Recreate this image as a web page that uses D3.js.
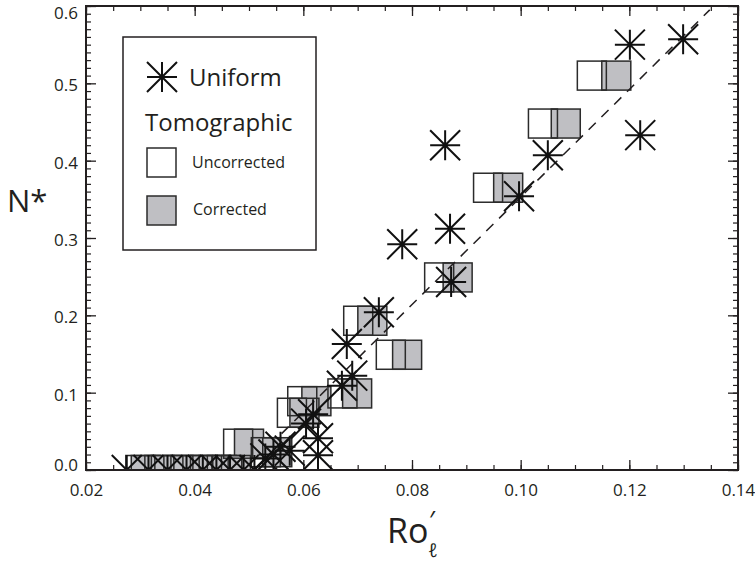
<!DOCTYPE html>
<html>
<head>
<meta charset="utf-8">
<script src="https://cdn.jsdelivr.net/npm/d3@7"></script>
<style>
  html, body { margin: 0; padding: 0; background: #fff; }
  svg text { font-family: "Open Sans", "DejaVu Sans", sans-serif; fill: #231f20; }
</style>
</head>
<body>
<svg id="chart" width="755" height="562"></svg>
<script>
// Uniform estimate (asterisks)
const uniformRo = [0.1299, 0.1201, 0.1220, 0.1050, 0.0997, 0.0861, 0.0870, 0.0782, 0.0872,
  0.0739, 0.0680, 0.0690, 0.0671, 0.0618, 0.0605, 0.0627, 0.0627, 0.0575, 0.0558, 0.0545, 0.0530,
  0.0275, 0.0315, 0.0350, 0.0385, 0.0415, 0.0440, 0.0465, 0.0490, 0.0510];
const uniformN = [0.557, 0.550, 0.433, 0.407, 0.354, 0.420, 0.312, 0.292, 0.243,
  0.204, 0.163, 0.122, 0.109, 0.072, 0.060, 0.041, 0.019, 0.025, 0.030, 0.020, 0.015,
  0.000, 0.000, 0.000, 0.000, 0.000, 0.000, 0.000, 0.000, 0.000];

// Tomographic estimate: uncorrected and corrected Ro at the same N*
const tomoUncorrectedRo = [0.1131, 0.1041, 0.0940, 0.0850, 0.0761, 0.0701, 0.0672, 0.0598, 0.0579,
  0.0480, 0.0531, 0.0300, 0.0335, 0.0370, 0.0405, 0.0435, 0.0460];
const tomoCorrectedRo = [0.1176, 0.1083, 0.0977, 0.0884, 0.0791, 0.0727, 0.0699, 0.0624, 0.0602,
  0.0500, 0.0552, 0.0310, 0.0347, 0.0383, 0.0419, 0.0450, 0.0476];
const tomoN = [0.510, 0.448, 0.365, 0.249, 0.149, 0.193, 0.099, 0.089, 0.074,
  0.034, 0.023, 0.000, 0.000, 0.000, 0.000, 0.000, 0.000];

// Linear fit shown as the dashed line
const fitRo = [0.0560, 0.1348];
const fitN = [0.047, 0.595];

const xTicks = [0.02, 0.04, 0.06, 0.08, 0.10, 0.12, 0.14];
const xTickLabels = ["0.02", "0.04", "0.06", "0.08", "0.10", "0.12", "0.14"];
const yTicks = [0.0, 0.1, 0.2, 0.3, 0.4, 0.5, 0.6];
const yTickLabels = ["0.0", "0.1", "0.2", "0.3", "0.4", "0.5", "0.6"];

(function () {
const svg = d3.select("#chart");
const mLeft = 86, mRight = 738, mTop = 6, mBottom = 470;

const x = d3.scaleLinear().domain([0.02, 0.14]).range([mLeft, mRight]);
const y = d3.scaleLinear().domain([0, 0.6]).range([mBottom, mTop]);

const xMinor = d3.range(0, 25).map(i => +(0.02 + i * 0.005).toFixed(4));
const yMinor = d3.range(0, 61).map(i => +(i * 0.01).toFixed(3));

const ink = "#231f20";

// minor ticks, all four sides, pointing inward
function minor(axis, scale, vals, tx, ty) {
  svg.append("g").attr("transform", `translate(${tx},${ty})`)
    .call(axis(scale).tickValues(vals).tickSize(-5).tickSizeOuter(0).tickFormat(""))
    .call(g => g.select(".domain").remove())
    .call(g => g.selectAll("line").attr("stroke", ink).attr("stroke-width", 1.2));
}
minor(d3.axisBottom, x, xMinor, 0, mBottom);
minor(d3.axisTop, x, xMinor, 0, mTop);
minor(d3.axisLeft, y, yMinor, mLeft, 0);
minor(d3.axisRight, y, yMinor, mRight, 0);

// major ticks
const gx = svg.append("g").attr("transform", `translate(0,${mBottom})`)
  .call(d3.axisBottom(x).tickValues(xTicks).tickFormat((d, i) => xTickLabels[i])
    .tickSize(-10).tickSizeOuter(0).tickPadding(14));
const gy = svg.append("g").attr("transform", `translate(${mLeft},0)`)
  .call(d3.axisLeft(y).tickValues(yTicks).tickFormat((d, i) => yTickLabels[i])
    .tickSize(-10).tickSizeOuter(0).tickPadding(8));
const gxt = svg.append("g").attr("transform", `translate(0,${mTop})`)
  .call(d3.axisTop(x).tickValues(xTicks).tickSize(-10).tickSizeOuter(0).tickFormat(""));
const gyr = svg.append("g").attr("transform", `translate(${mRight},0)`)
  .call(d3.axisRight(y).tickValues(yTicks).tickSize(-10).tickSizeOuter(0).tickFormat(""));
[gx, gy, gxt, gyr].forEach(g => {
  g.select(".domain").remove();
  g.selectAll("line").attr("stroke", ink).attr("stroke-width", 1.3);
  g.selectAll("text").attr("font-size", 17).attr("fill", ink)
    .attr("font-family", "'Open Sans', sans-serif");
});
// end labels sit just inside the frame
gy.selectAll(".tick text").attr("dy", d => d >= 0.6 ? "0.75em" : d <= 0 ? "0.05em" : "0.45em");

const plot = svg.append("g");
svg.append("clipPath").attr("id", "plotClip").append("rect")
  .attr("x", mLeft).attr("y", mTop).attr("width", mRight - mLeft).attr("height", mBottom - mTop);
plot.attr("clip-path", "url(#plotClip)");

const sq = 29;
const grey = "#bfbfc3";

// corrected squares (grey) underneath
plot.selectAll("rect.cor").data(tomoN).join("rect").attr("class", "cor")
  .attr("x", (d, i) => x(tomoCorrectedRo[i]) - sq / 2)
  .attr("y", d => y(d) - sq / 2)
  .attr("width", sq).attr("height", sq)
  .attr("fill", grey).attr("stroke", "#2b2b2b").attr("stroke-width", 1.5);

// uncorrected squares (outline)
plot.selectAll("rect.unc").data(tomoN).join("rect").attr("class", "unc")
  .attr("x", (d, i) => x(tomoUncorrectedRo[i]) - sq / 2)
  .attr("y", d => y(d) - sq / 2)
  .attr("width", sq).attr("height", sq)
  .attr("fill", "none").attr("stroke", "#2b2b2b").attr("stroke-width", 1.5);

// dashed fit line
plot.append("path")
  .datum(fitRo.map((r, i) => [r, fitN[i]]))
  .attr("d", d3.line().x(d => x(d[0])).y(d => y(d[1])))
  .attr("fill", "none").attr("stroke", ink).attr("stroke-width", 1.5)
  .attr("stroke-dasharray", "10,8");

// asterisks
const s = 15;
const starPath = `M${-s},0H${s}M0,${-s}V${s}M${-s},${-s}L${s},${s}M${-s},${s}L${s},${-s}`;
plot.selectAll("path.star").data(uniformN).join("path").attr("class", "star")
  .attr("transform", (d, i) => `translate(${x(uniformRo[i])},${y(d)})`)
  .attr("d", starPath)
  .attr("fill", "none").attr("stroke", "#111").attr("stroke-width", 2);

// frame
svg.append("rect").attr("x", mLeft).attr("y", mTop)
  .attr("width", mRight - mLeft).attr("height", mBottom - mTop)
  .attr("fill", "none").attr("stroke", ink).attr("stroke-width", 2);

// legend
const lg = svg.append("g");
lg.append("rect").attr("x", 123).attr("y", 37).attr("width", 193).attr("height", 213)
  .attr("fill", "#fff").attr("stroke", ink).attr("stroke-width", 1.5);
lg.append("path").attr("transform", "translate(162,77)").attr("d", starPath)
  .attr("fill", "none").attr("stroke", "#111").attr("stroke-width", 2);
lg.append("text").attr("x", 189).attr("y", 86).attr("font-size", 24).text("Uniform");
lg.append("text").attr("x", 145).attr("y", 131).attr("font-size", 24).text("Tomographic");
lg.append("rect").attr("x", 147).attr("y", 148).attr("width", sq).attr("height", sq)
  .attr("fill", "#fff").attr("stroke", "#2b2b2b").attr("stroke-width", 1.5);
lg.append("text").attr("x", 192).attr("y", 168).attr("font-size", 16).text("Uncorrected");
lg.append("rect").attr("x", 147).attr("y", 196).attr("width", sq).attr("height", sq)
  .attr("fill", grey).attr("stroke", "#2b2b2b").attr("stroke-width", 1.5);
lg.append("text").attr("x", 193).attr("y", 215).attr("font-size", 16).text("Corrected");

// axis titles
svg.append("text").attr("x", 7).attr("y", 212).attr("font-size", 31).text("N*");
svg.append("text").attr("x", 387).attr("y", 543).attr("font-size", 34).text("Ro");
svg.append("text").attr("x", 429).attr("y", 529).attr("font-size", 26).text("\u2032");
svg.append("text").attr("x", 428).attr("y", 557).attr("font-size", 19)
  .attr("font-style", "italic").text("\u2113");
})();
</script>
</body>
</html>
